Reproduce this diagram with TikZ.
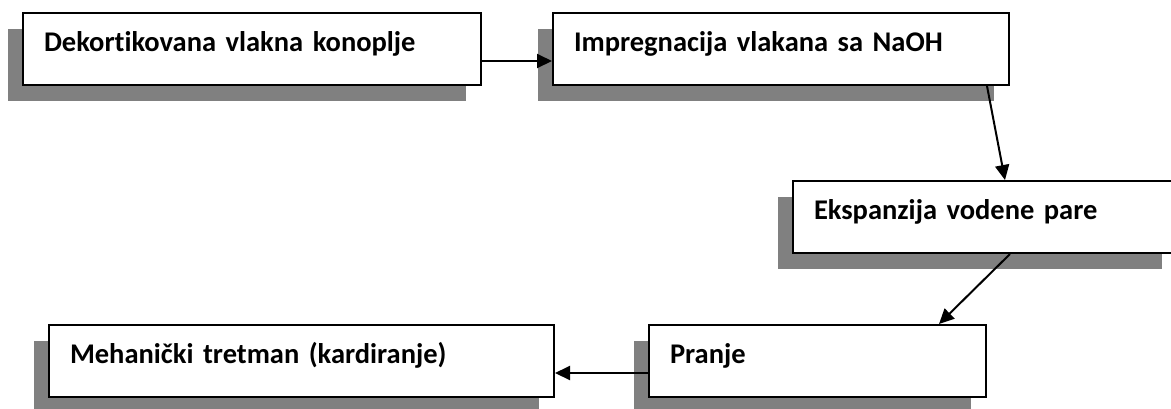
\documentclass[tikz,border=0pt]{standalone}
\usepackage{fontspec}
\setmainfont{Carlito}[Ligatures=NoCommon]
\usetikzlibrary{arrows.meta,shadows}
\definecolor{shadowgray}{RGB}{128,128,128}
\tikzset{
    stepbox/.style={draw=black, line width=2pt, fill=white, anchor=north west,
        inner xsep=21pt, inner ysep=0pt, text height=38pt, text depth=34pt,
        align=left, font=\fontsize{28.5}{34}\selectfont\bfseries,
        drop shadow={shadow xshift=-15pt, shadow yshift=-16pt, fill=shadowgray, opacity=1}},
    flow/.style={line width=2pt, -{Triangle[length=15pt,width=14pt]}}
}
\begin{document}
\begin{tikzpicture}[x=1pt,y=-1pt]
    \useasboundingbox (0,0) rectangle (1171,408);
    \foreach\name/\x/\y/\w/\txt in{
        fibres/22/12/458/{Dekortikovana vlakna konoplje},
        naoh/552/12/456/{Impregnacija vlakana sa NaOH},
        steam/792/180/384/{Ekspanzija vodene pare},
        wash/648/324/337/{Pranje},
        carding/48/324/505/{Mehanički tretman (kardiranje)}}{
        \node[stepbox, text width=\w pt-42pt] (\name) at (\x,\y) {\txt};
    }
    \draw[flow] ([yshift=-12pt]fibres.east) -- ([yshift=-12pt]naoh.west);
    \draw[flow] ([xshift=-23pt]naoh.south east) -- ([xshift=213pt]steam.north west);
    \draw[flow] ([xshift=218pt]steam.south west) -- ([xshift=-48pt]wash.north east);
    \draw[flow] ([yshift=-12pt]wash.west) -- ([yshift=-12pt]carding.east);
\end{tikzpicture}
\end{document}
